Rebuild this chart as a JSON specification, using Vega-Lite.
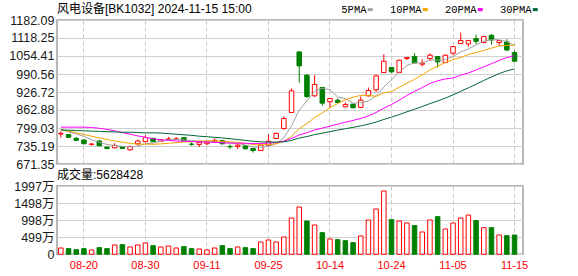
{
  "$schema": "https://vega.github.io/schema/vega-lite/v6.json",
  "padding": {"left": 0, "top": 2, "right": 0, "bottom": 0},
  "bounds": "flush",
  "spacing": 22,
  "config": {
    "font": "Liberation Sans, Noto Sans CJK SC",
    "view": {"stroke": "#a0a0a0", "strokeWidth": 1.5},
    "axis": {"title": null, "ticks": false, "domain": false, "labelFont": "Liberation Sans, Noto Sans CJK SC", "labelColor": "#1a1a1a", "gridColor": "#d0d0d0", "gridWidth": 1, "labelOverlap": false},
    "title": {"fontSize": 12, "fontWeight": "normal", "color": "#000000", "anchor": "start", "frame": "group", "baseline": "middle", "font": "Liberation Sans, Noto Sans CJK SC"}
  },
  "datasets": {
    "k": [
      {"d":"08-15","o":778,"h":787,"l":765,"c":780,"v":185,"vu":1,"5PMA":795,"10PMA":793,"20PMA":802,"30PMA":792},
      {"d":"08-16","o":775.8,"h":777,"l":765,"c":766.1,"v":166,"vu":0,"5PMA":785,"10PMA":788,"20PMA":802,"30PMA":791},
      {"d":"08-19","o":762.5,"h":767.3,"l":754,"c":755.3,"v":136,"vu":0,"5PMA":778,"10PMA":782,"20PMA":802,"30PMA":790},
      {"d":"08-20","o":756.5,"h":759,"l":741,"c":743.2,"v":166,"vu":0,"5PMA":769,"10PMA":776,"20PMA":802,"30PMA":789},
      {"d":"08-21","o":741,"h":746,"l":736,"c":742,"v":127,"vu":1,"5PMA":757.3,"10PMA":770,"20PMA":801,"30PMA":788},
      {"d":"08-22","o":752.9,"h":757,"l":735,"c":736,"v":195,"vu":0,"5PMA":748.5,"10PMA":764,"20PMA":798,"30PMA":787},
      {"d":"08-23","o":731.2,"h":733.5,"l":723,"c":726.4,"v":166,"vu":0,"5PMA":740.6,"10PMA":758,"20PMA":794,"30PMA":786},
      {"d":"08-26","o":728.8,"h":745.6,"l":727,"c":737.2,"v":273,"vu":1,"5PMA":737,"10PMA":753,"20PMA":789,"30PMA":785},
      {"d":"08-27","o":733.6,"h":734,"l":725,"c":726.4,"v":282,"vu":0,"5PMA":733.6,"10PMA":749,"20PMA":783,"30PMA":784},
      {"d":"08-28","o":721.6,"h":735,"l":719,"c":733.6,"v":214,"vu":1,"5PMA":731.9,"10PMA":744.6,"20PMA":777,"30PMA":784},
      {"d":"08-29","o":743.2,"h":757.7,"l":737,"c":752.9,"v":273,"vu":1,"5PMA":735.3,"10PMA":741.9,"20PMA":771,"30PMA":783},
      {"d":"08-30","o":750.5,"h":773.3,"l":748,"c":764.9,"v":331,"vu":1,"5PMA":743,"10PMA":741.8,"20PMA":766,"30PMA":782},
      {"d":"09-02","o":762.5,"h":763,"l":749,"c":750.5,"v":253,"vu":0,"5PMA":745.7,"10PMA":741.3,"20PMA":761,"30PMA":782},
      {"d":"09-03","o":751.7,"h":760,"l":750,"c":757.7,"v":214,"vu":1,"5PMA":751.9,"10PMA":742.8,"20PMA":757,"30PMA":781},
      {"d":"09-04","o":758.9,"h":767.3,"l":758,"c":760.1,"v":243,"vu":1,"5PMA":757.2,"10PMA":744.6,"20PMA":755,"30PMA":779},
      {"d":"09-05","o":759,"h":767,"l":758,"c":760.5,"v":185,"vu":1,"5PMA":758.7,"10PMA":747,"20PMA":753,"30PMA":777},
      {"d":"09-06","o":764.9,"h":766,"l":751,"c":752.9,"v":224,"vu":0,"5PMA":756.3,"10PMA":749.7,"20PMA":752,"30PMA":775},
      {"d":"09-09","o":742,"h":748,"l":736,"c":740.8,"v":166,"vu":0,"5PMA":754.4,"10PMA":750,"20PMA":751,"30PMA":773},
      {"d":"09-10","o":740.8,"h":749,"l":731.2,"c":748,"v":156,"vu":1,"5PMA":752.5,"10PMA":752.2,"20PMA":750,"30PMA":770},
      {"d":"09-11","o":743.2,"h":750,"l":738,"c":749.3,"v":127,"vu":1,"5PMA":750.3,"10PMA":753.8,"20PMA":749.2,"30PMA":768},
      {"d":"09-12","o":750.5,"h":762.5,"l":749,"c":755.3,"v":185,"vu":1,"5PMA":749.3,"10PMA":754,"20PMA":747.9,"30PMA":766},
      {"d":"09-13","o":754,"h":757,"l":740,"c":743.2,"v":253,"vu":0,"5PMA":747.3,"10PMA":751.8,"20PMA":746.8,"30PMA":764},
      {"d":"09-18","o":733.6,"h":740.8,"l":724,"c":732.4,"v":166,"vu":0,"5PMA":745.6,"10PMA":750,"20PMA":745.7,"30PMA":761},
      {"d":"09-19","o":733.6,"h":745.6,"l":724,"c":738.4,"v":214,"vu":1,"5PMA":743.7,"10PMA":748.1,"20PMA":745.4,"30PMA":758},
      {"d":"09-20","o":736,"h":737,"l":723,"c":725.2,"v":195,"vu":0,"5PMA":738.9,"10PMA":744.6,"20PMA":744.6,"30PMA":755},
      {"d":"09-23","o":726.4,"h":728.8,"l":712,"c":719.1,"v":166,"vu":0,"5PMA":731.7,"10PMA":740.5,"20PMA":743.7,"30PMA":752},
      {"d":"09-24","o":719.1,"h":739,"l":718,"c":738.4,"v":360,"vu":1,"5PMA":730.7,"10PMA":739,"20PMA":744.3,"30PMA":750},
      {"d":"09-25","o":738,"h":776,"l":736,"c":752,"v":419,"vu":1,"5PMA":734.6,"10PMA":740.1,"20PMA":745.1,"30PMA":749},
      {"d":"09-26","o":762,"h":783,"l":760,"c":780,"v":360,"vu":1,"5PMA":742.9,"10PMA":743.3,"20PMA":747.8,"30PMA":749},
      {"d":"09-27","o":797.5,"h":840,"l":792.8,"c":832.9,"v":506,"vu":1,"5PMA":764.5,"10PMA":751.7,"20PMA":752.7,"30PMA":750},
      {"d":"09-30","o":854.2,"h":939.1,"l":852,"c":930.8,"v":1062,"vu":1,"5PMA":806.8,"10PMA":769.2,"20PMA":761.6,"30PMA":755},
      {"d":"10-08","o":1068.9,"h":1071,"l":960.3,"c":1019.3,"v":1383,"vu":1,"5PMA":863,"10PMA":796.9,"20PMA":774.3,"30PMA":763.5},
      {"d":"10-09","o":986.3,"h":990,"l":905,"c":910.8,"v":974,"vu":0,"5PMA":894.8,"10PMA":814.7,"20PMA":782.4,"30PMA":768.7},
      {"d":"10-10","o":913.1,"h":986.3,"l":910,"c":953.3,"v":857,"vu":1,"5PMA":929.4,"10PMA":836.2,"20PMA":792.1,"30PMA":775.7},
      {"d":"10-11","o":942.6,"h":945,"l":877.8,"c":887.2,"v":633,"vu":0,"5PMA":940.3,"10PMA":852.4,"20PMA":798.5,"30PMA":780.5},
      {"d":"10-14","o":891.9,"h":905,"l":871.9,"c":903.7,"v":448,"vu":1,"5PMA":934.9,"10PMA":870.8,"20PMA":805.7,"30PMA":786.1},
      {"d":"10-15","o":897.8,"h":903.7,"l":887,"c":889.5,"v":429,"vu":0,"5PMA":908.9,"10PMA":886,"20PMA":812.5,"30PMA":791.5},
      {"d":"10-16","o":874.2,"h":889.5,"l":872,"c":882.5,"v":399,"vu":0,"5PMA":903.2,"10PMA":899,"20PMA":819.6,"30PMA":796.4},
      {"d":"10-17","o":883.7,"h":885,"l":869,"c":870.7,"v":341,"vu":0,"5PMA":886.7,"10PMA":908.1,"20PMA":825.7,"30PMA":801.2},
      {"d":"10-18","o":871.9,"h":910.8,"l":870,"c":897.8,"v":536,"vu":1,"5PMA":888.8,"10PMA":914.6,"20PMA":833.1,"30PMA":806.7},
      {"d":"10-21","o":913.1,"h":942.6,"l":911,"c":932,"v":1003,"vu":1,"5PMA":894.5,"10PMA":914.7,"20PMA":842,"30PMA":812.6},
      {"d":"10-22","o":934.4,"h":988.7,"l":927.3,"c":984,"v":1325,"vu":1,"5PMA":913.4,"10PMA":911.2,"20PMA":854,"30PMA":820},
      {"d":"10-23","o":995.7,"h":1060.6,"l":994,"c":1035.9,"v":1851,"vu":1,"5PMA":944.1,"10PMA":923.7,"20PMA":869.2,"30PMA":829.5},
      {"d":"10-24","o":1013.4,"h":1015,"l":993.4,"c":998.1,"v":1013,"vu":0,"5PMA":969.6,"10PMA":928.1,"20PMA":882.2,"30PMA":837.5},
      {"d":"10-25","o":995.7,"h":1041,"l":994,"c":1039.4,"v":974,"vu":1,"5PMA":997.9,"10PMA":943.4,"20PMA":897.9,"30PMA":846.8},
      {"d":"10-28","o":1045.3,"h":1049,"l":1040.6,"c":1048.8,"v":916,"vu":1,"5PMA":1021.2,"10PMA":957.9,"20PMA":914.4,"30PMA":856.4},
      {"d":"10-29","o":1052.4,"h":1064.2,"l":1028,"c":1029.9,"v":838,"vu":0,"5PMA":1030.4,"10PMA":971.9,"20PMA":928.9,"30PMA":865.6},
      {"d":"10-30","o":1025.2,"h":1042.9,"l":1017,"c":1028.8,"v":653,"vu":1,"5PMA":1029,"10PMA":986.5,"20PMA":942.8,"30PMA":875.2},
      {"d":"10-31","o":1045.3,"h":1064.2,"l":1037,"c":1057.1,"v":1003,"vu":1,"5PMA":1040.8,"10PMA":1005.2,"20PMA":956.6,"30PMA":885.5},
      {"d":"11-01","o":1052.4,"h":1054,"l":1013.4,"c":1033.5,"v":1101,"vu":0,"5PMA":1039.6,"10PMA":1018.8,"20PMA":966.7,"30PMA":895},
      {"d":"11-04","o":1031.1,"h":1060,"l":1029,"c":1057.1,"v":740,"vu":1,"5PMA":1041.3,"10PMA":1031.3,"20PMA":973,"30PMA":905.1},
      {"d":"11-05","o":1064.2,"h":1089,"l":1057.1,"c":1087.8,"v":916,"vu":1,"5PMA":1052.9,"10PMA":1041.6,"20PMA":976.4,"30PMA":916.5},
      {"d":"11-06","o":1098.4,"h":1137.3,"l":1097,"c":1109,"v":1062,"vu":1,"5PMA":1068.9,"10PMA":1049,"20PMA":986.3,"30PMA":929.1},
      {"d":"11-07","o":1097.2,"h":1110,"l":1087.8,"c":1109,"v":1149,"vu":1,"5PMA":1079.3,"10PMA":1060,"20PMA":994.1,"30PMA":941.5},
      {"d":"11-08","o":1116.1,"h":1130.2,"l":1097,"c":1106.6,"v":984,"vu":0,"5PMA":1093.9,"10PMA":1066.8,"20PMA":1005.1,"30PMA":954.2},
      {"d":"11-11","o":1101.9,"h":1124,"l":1100,"c":1123.2,"v":779,"vu":1,"5PMA":1107.1,"10PMA":1074.2,"20PMA":1016,"30PMA":967.6},
      {"d":"11-12","o":1127.9,"h":1132.6,"l":1094.8,"c":1111.4,"v":779,"vu":0,"5PMA":1111.8,"10PMA":1082.4,"20PMA":1027.1,"30PMA":980.1},
      {"d":"11-13","o":1101.9,"h":1111,"l":1090.1,"c":1109,"v":565,"vu":1,"5PMA":1111.8,"10PMA":1090.4,"20PMA":1038.5,"30PMA":992},
      {"d":"11-14","o":1104.3,"h":1113.7,"l":1071.2,"c":1076,"v":545,"vu":0,"5PMA":1105.2,"10PMA":1092.3,"20PMA":1048.7,"30PMA":1001.8},
      {"d":"11-15","o":1066.5,"h":1073.6,"l":1034,"c":1035.9,"v":563,"vu":0,"5PMA":1091.1,"10PMA":1092.5,"20PMA":1055.6,"30PMA":1008.6}
    ]
  },
  "vconcat": [
    {
      "width": 466,
      "height": 144,
      "data": {"name": "k"},
      "title": {"text": "风电设备[BK1032] 2024-11-15 15:00", "offset": -2.3},
      "encoding": {
        "x": {
          "field": "d", "type": "ordinal",
          "scale": {"paddingInner": 0, "paddingOuter": 0.3, "align": 0},
          "axis": {"values": ["08-20","08-30","09-11","09-25","10-14","10-24","11-05","11-15"], "labels": false, "grid": true, "gridDash": [4, 3], "gridColor": "#c8c8c8", "bandPosition": 0.5}
        }
      },
      "layer": [
        {
          "mark": {"type": "rule", "strokeWidth": 1},
          "encoding": {
            "y": {"field": "l", "type": "quantitative", "scale": {"domain": [671.35, 1182.09], "nice": false, "zero": false},
              "axis": {"values": [671.35, 735.19, 799.03, 862.88, 926.72, 990.56, 1054.41, 1118.25, 1182.09], "format": ".2f", "labelFontSize": 12.5, "labelPadding": 3, "labelOverlap": false, "labelBound": false, "minExtent": 56, "maxExtent": 56, "grid": true}},
            "y2": {"field": "h"},
            "color": {"condition": {"test": "datum.c >= datum.o", "value": "#ff0000"}, "value": "#008000"}
          }
        },
        {
          "mark": {"type": "bar", "width": 4.5, "strokeWidth": 1},
          "encoding": {
            "y": {"field": "o", "type": "quantitative", "scale": {"domain": [671.35, 1182.09], "nice": false, "zero": false}, "axis": {"values": [671.35, 735.19, 799.03, 862.88, 926.72, 990.56, 1054.41, 1118.25, 1182.09], "format": ".2f", "labelFontSize": 12.5, "labelPadding": 3, "labelOverlap": false, "labelBound": false, "minExtent": 56, "maxExtent": 56, "grid": true}},
            "y2": {"field": "c"},
            "fill": {"condition": {"test": "datum.c >= datum.o", "value": "#ffffff"}, "value": "#008000"},
            "stroke": {"condition": {"test": "datum.c >= datum.o", "value": "#ff0000"}, "value": "#008000"}
          }
        },
        {
          "transform": [{"fold": ["5PMA", "10PMA", "20PMA", "30PMA"], "as": ["ma", "val"]}],
          "mark": {"type": "line", "strokeWidth": 1},
          "encoding": {
            "y": {"field": "val", "type": "quantitative", "scale": {"domain": [671.35, 1182.09], "nice": false, "zero": false}, "axis": {"values": [671.35, 735.19, 799.03, 862.88, 926.72, 990.56, 1054.41, 1118.25, 1182.09], "format": ".2f", "labelFontSize": 12.5, "labelPadding": 3, "labelOverlap": false, "labelBound": false, "minExtent": 56, "maxExtent": 56, "grid": true}},
            "color": {
              "field": "ma", "type": "nominal",
              "scale": {"domain": ["5PMA", "10PMA", "20PMA", "30PMA"], "range": ["#a0a0a0", "#f5a300", "#ff00ff", "#006633"]},
              "legend": {"title": null, "orient": "none", "legendX": 308, "legendY": -16, "direction": "horizontal", "symbolType": "stroke", "symbolSize": 25, "symbolStrokeWidth": 3, "labelAlign": "right", "labelOffset": -9, "labelFont": "Liberation Mono", "labelFontSize": 10.5, "labelColor": "#000000", "columnPadding": 10}
            }
          }
        }
      ]
    },
    {
      "width": 466,
      "height": 68.3,
      "data": {"name": "k"},
      "title": {"text": "成交量:5628428", "offset": -1.5},
      "mark": {"type": "bar", "width": 4.5, "strokeWidth": 1},
      "encoding": {
        "x": {
          "field": "d", "type": "ordinal",
          "scale": {"paddingInner": 0, "paddingOuter": 0.3, "align": 0},
          "axis": {"values": ["08-20","08-30","09-11","09-25","10-14","10-24","11-05","11-15"], "labelColor": "#ff0000", "labelFontSize": 11, "labelAngle": 0, "labelPadding": 5, "grid": true, "gridDash": [4, 3], "gridColor": "#c8c8c8", "bandPosition": 0.5}
        },
        "y": {
          "field": "v", "type": "quantitative", "scale": {"domain": [0, 1997], "nice": false},
          "axis": {"values": [0, 499, 998, 1498, 1997], "labelExpr": "datum.value == 0 ? '0' : datum.value + '万'", "labelFontSize": 12.5, "labelPadding": 3, "labelOverlap": false, "minExtent": 56, "maxExtent": 56, "grid": true}
        },
        "fill": {"condition": {"test": "datum.vu == 1", "value": "#ffffff"}, "value": "#008000"},
        "stroke": {"condition": {"test": "datum.vu == 1", "value": "#ff0000"}, "value": "#008000"}
      }
    }
  ]
}
